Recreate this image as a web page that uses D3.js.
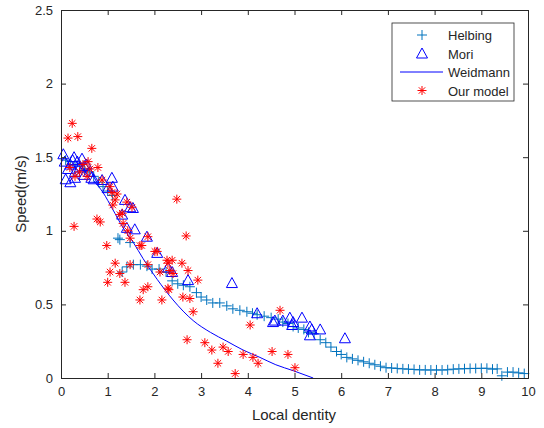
<!DOCTYPE html>
<html>
<head>
<meta charset="utf-8">
<script src="https://cdn.jsdelivr.net/npm/d3@7"></script>
<style>
  body { margin: 0; background: #fff; }
  svg { display: block; }
  text { font-family: "Liberation Sans", Arial, Helvetica, sans-serif; fill: #262626; }
</style>
</head>
<body>
<svg id="chart" width="544" height="428"></svg>
<script>
// tick labels
const xTicks = [0, 1, 2, 3, 4, 5, 6, 7, 8, 9, 10];
const yTicks = [0, 0.5, 1, 1.5, 2, 2.5];

// Helbing (density, speed)
const helbingX = [0.1, 0.2, 0.3, 0.4, 0.5, 0.6, 0.7, 0.8, 0.9, 1.0, 1.1, 1.22, 1.26, 1.48, 1.31, 1.41, 1.55, 1.7, 1.84, 1.95,
  2.1, 2.25, 2.38, 2.5, 2.62, 2.76, 2.9, 3.0, 3.12, 3.25, 3.4, 3.55, 3.68, 3.83, 3.98, 4.1, 4.2, 4.35, 4.5, 4.65,
  4.75, 4.86, 4.97, 5.08, 5.2, 5.3, 5.42, 5.55, 5.67, 5.78, 5.9, 6.0, 6.12, 6.24, 6.36, 6.48, 6.6, 6.72, 6.84, 6.96,
  7.08, 7.2, 7.32, 7.44, 7.56, 7.68, 7.8, 7.92, 8.04, 8.16, 8.28, 8.4, 8.52, 8.64, 8.76, 8.88, 9.0, 9.12, 9.24, 9.34,
  9.44, 9.56, 9.68, 9.8, 9.92];
const helbingY = [1.48, 1.47, 1.45, 1.44, 1.42, 1.40, 1.37, 1.33, 1.30, 1.27, 1.24, 0.95, 0.94, 0.92, 0.72, 0.755, 0.77, 0.77, 0.76, 0.74,
  0.74, 0.72, 0.66, 0.64, 0.63, 0.62, 0.58, 0.55, 0.53, 0.51, 0.51, 0.49, 0.47, 0.46, 0.45, 0.44, 0.43, 0.42, 0.41, 0.40,
  0.38, 0.37, 0.35, 0.34, 0.33, 0.31, 0.30, 0.26, 0.24, 0.21, 0.18, 0.16, 0.14, 0.13, 0.12, 0.11, 0.10, 0.09, 0.08, 0.07,
  0.068, 0.065, 0.062, 0.06, 0.058, 0.055, 0.055, 0.054, 0.055, 0.054, 0.056, 0.06, 0.062, 0.063, 0.065, 0.065, 0.066, 0.066, 0.06, 0.062,
  0.015, 0.04, 0.04, 0.035, 0.03];

// Mori (density, speed)
const moriX = [0.05, 0.08, 0.1, 0.15, 0.2, 0.25, 0.3, 0.35, 0.4, 0.45, 0.5, 0.55, 0.6, 0.65, 0.7, 0.2, 0.3, 0.5, 0.28,
  0.88, 1.0, 1.09, 1.11, 1.31, 1.37, 1.41, 1.48, 1.54, 1.58, 1.84, 2.06, 2.29, 2.38, 2.72, 3.66,
  4.2, 4.54, 4.58, 4.75, 4.9, 4.95, 4.97, 5.16, 5.33, 5.37, 5.33, 5.55, 6.08];
const moriY = [1.52, 1.47, 1.35, 1.42, 1.45, 1.48, 1.40, 1.47, 1.43, 1.49, 1.38, 1.45, 1.40, 1.36, 1.35, 1.33, 1.36, 1.44, 1.50,
  1.345, 1.29, 1.36, 1.30, 1.11, 1.21, 1.02, 1.16, 1.155, 1.01, 0.96, 0.85, 0.75, 0.72, 0.665, 0.645,
  0.44, 0.38, 0.39, 0.39, 0.41, 0.36, 0.38, 0.41, 0.35, 0.33, 0.29, 0.33, 0.27];

// Weidmann curve (density, speed)
const weidX = [0.7, 0.9, 1.1, 1.33, 1.55, 1.76, 2.06, 2.4, 2.83, 3.2, 3.55, 3.9, 4.26, 4.6, 4.97, 5.4];
const weidY = [1.34, 1.26, 1.15, 1.02, 0.92, 0.81, 0.67, 0.53, 0.39, 0.31, 0.25, 0.19, 0.14, 0.09, 0.05, 0.0];

// Our model (density, speed)
const oursX = [0.24, 0.15, 0.36, 0.66, 0.58, 0.79, 0.19, 0.47, 0.30, 0.56, 0.88, 1.05, 1.09, 1.16, 1.11, 1.41, 1.52, 1.26, 0.77,
  0.28, 2.48, 2.68, 0.84, 0.98, 1.16, 1.05, 1.0, 1.37, 1.26, 1.48, 1.73, 1.86, 1.86, 2.01, 2.12, 2.29, 2.38, 2.59, 2.72,
  2.93, 2.29, 1.76, 1.86, 1.69, 2.16, 2.61, 2.76, 2.83, 2.70, 3.08, 3.23, 3.47, 3.58, 3.36, 3.73, 3.90, 4.11, 4.22,
  4.52, 4.86, 5.01, 4.69, 4.05, 1.31, 1.33, 1.43, 1.48, 2.06, 2.27, 2.33, 2.40, 2.31, 1.69, 0.4, 0.62, 1.2];
const oursY = [1.73, 1.63, 1.64, 1.56, 1.47, 1.43, 1.43, 1.45, 1.37, 1.37, 1.345, 1.30, 1.26, 1.21, 1.175, 1.195, 1.16, 1.11, 1.08,
  1.03, 1.215, 0.965, 1.06, 0.90, 0.78, 0.72, 0.65, 0.65, 0.71, 0.77, 0.90, 0.96, 0.77, 0.86, 0.72, 0.78, 0.80, 0.78, 0.73,
  0.665, 0.61, 0.60, 0.62, 0.53, 0.53, 0.55, 0.54, 0.45, 0.26, 0.24, 0.19, 0.21, 0.18, 0.10, 0.03, 0.16, 0.14, 0.10,
  0.18, 0.16, 0.07, 0.46, 0.36, 1.12, 1.05, 1.0, 0.95, 0.86, 0.80, 0.73, 0.71, 0.60, 0.90, 1.40, 1.42, 1.25];

const legendNames = ["Helbing", "Mori", "Weidmann", "Our model"];

const svg = d3.select("#chart");
const x = d3.scaleLinear().domain([0, 10]).range([61, 528]);
const y = d3.scaleLinear().domain([0, 2.5]).range([378, 10]);
const axisColor = "#262626";

const plusPath = "M-5,0H5M0,-5V5";
const triPath = "M0,-5.5L5.5,4.5L-5.5,4.5Z";
const starPath = "M-4.5,0H4.5M0,-4.5V4.5M-3.2,-3.2L3.2,3.2M-3.2,3.2L3.2,-3.2";

// plot area
svg.append("rect").attr("x", 61).attr("y", 10).attr("width", 467).attr("height", 368).attr("fill", "#fff");

// markers
const plot = svg.append("g");
plot.selectAll(".helb").data(d3.range(helbingX.length)).join("path")
  .attr("d", plusPath)
  .attr("transform", i => `translate(${x(helbingX[i])},${y(helbingY[i])})`)
  .attr("fill", "none").attr("stroke", "#0072BD").attr("stroke-width", 1);

plot.selectAll(".mori").data(d3.range(moriX.length)).join("path")
  .attr("d", triPath)
  .attr("transform", i => `translate(${x(moriX[i])},${y(moriY[i])})`)
  .attr("fill", "none").attr("stroke", "#0000FF").attr("stroke-width", 1);

const line = d3.line().x(i => x(weidX[i])).y(i => y(weidY[i])).curve(d3.curveMonotoneX);
plot.append("path").attr("d", line(d3.range(weidX.length)))
  .attr("fill", "none").attr("stroke", "#0000FF").attr("stroke-width", 1);

plot.selectAll(".ours").data(d3.range(oursX.length)).join("path")
  .attr("d", starPath)
  .attr("transform", i => `translate(${x(oursX[i])},${y(oursY[i])})`)
  .attr("fill", "none").attr("stroke", "#FF0000").attr("stroke-width", 1);

// axes
const axes = svg.append("g");
axes.append("g").attr("transform", "translate(0,378)")
  .call(d3.axisBottom(x).tickValues(xTicks).tickSize(-5).tickPadding(9).tickFormat(d3.format("")));
axes.append("g").attr("transform", "translate(61,0)")
  .call(d3.axisLeft(y).tickValues(yTicks).tickSize(-5).tickPadding(8).tickFormat(d3.format("")));
axes.append("g").attr("transform", "translate(0,10)")
  .call(d3.axisTop(x).tickValues(xTicks).tickSize(-5).tickFormat(""));
axes.append("g").attr("transform", "translate(528,0)")
  .call(d3.axisRight(y).tickValues(yTicks).tickSize(-5).tickFormat(""));
axes.selectAll(".domain").attr("stroke", axisColor);
axes.selectAll(".tick line").attr("stroke", axisColor);
axes.selectAll(".tick text").attr("font-size", 13).attr("fill", axisColor)
  .style("font-family", "'Liberation Sans', Arial, sans-serif");

svg.append("text").attr("x", 294).attr("y", 420).attr("text-anchor", "middle")
  .attr("font-size", 15).text("Local dentity");
svg.append("text").attr("transform", "translate(26,194) rotate(-90)").attr("text-anchor", "middle")
  .attr("font-size", 15).text("Speed(m/s)");

// legend
const lg = svg.append("g").attr("transform", "translate(392,23)");
lg.append("rect").attr("width", 122).attr("height", 78).attr("fill", "#fff")
  .attr("stroke", axisColor).attr("stroke-width", 0.8);
const rows = lg.selectAll(".row").data(legendNames).join("g")
  .attr("transform", (d, i) => `translate(0,${12 + i * 18.5})`);
rows.append("text").attr("x", 56).attr("y", 5).attr("font-size", 13).text(d => d);
rows.filter((d, i) => i === 0).append("path").attr("d", plusPath).attr("transform", "translate(30,0)")
  .attr("stroke", "#0072BD").attr("fill", "none");
rows.filter((d, i) => i === 1).append("path").attr("d", triPath).attr("transform", "translate(30,0)")
  .attr("stroke", "#0000FF").attr("fill", "none");
rows.filter((d, i) => i === 2).append("line").attr("x1", 8).attr("x2", 51)
  .attr("stroke", "#0000FF");
rows.filter((d, i) => i === 3).append("path").attr("d", starPath).attr("transform", "translate(30,0)")
  .attr("stroke", "#FF0000").attr("fill", "none");
</script>
</body>
</html>
